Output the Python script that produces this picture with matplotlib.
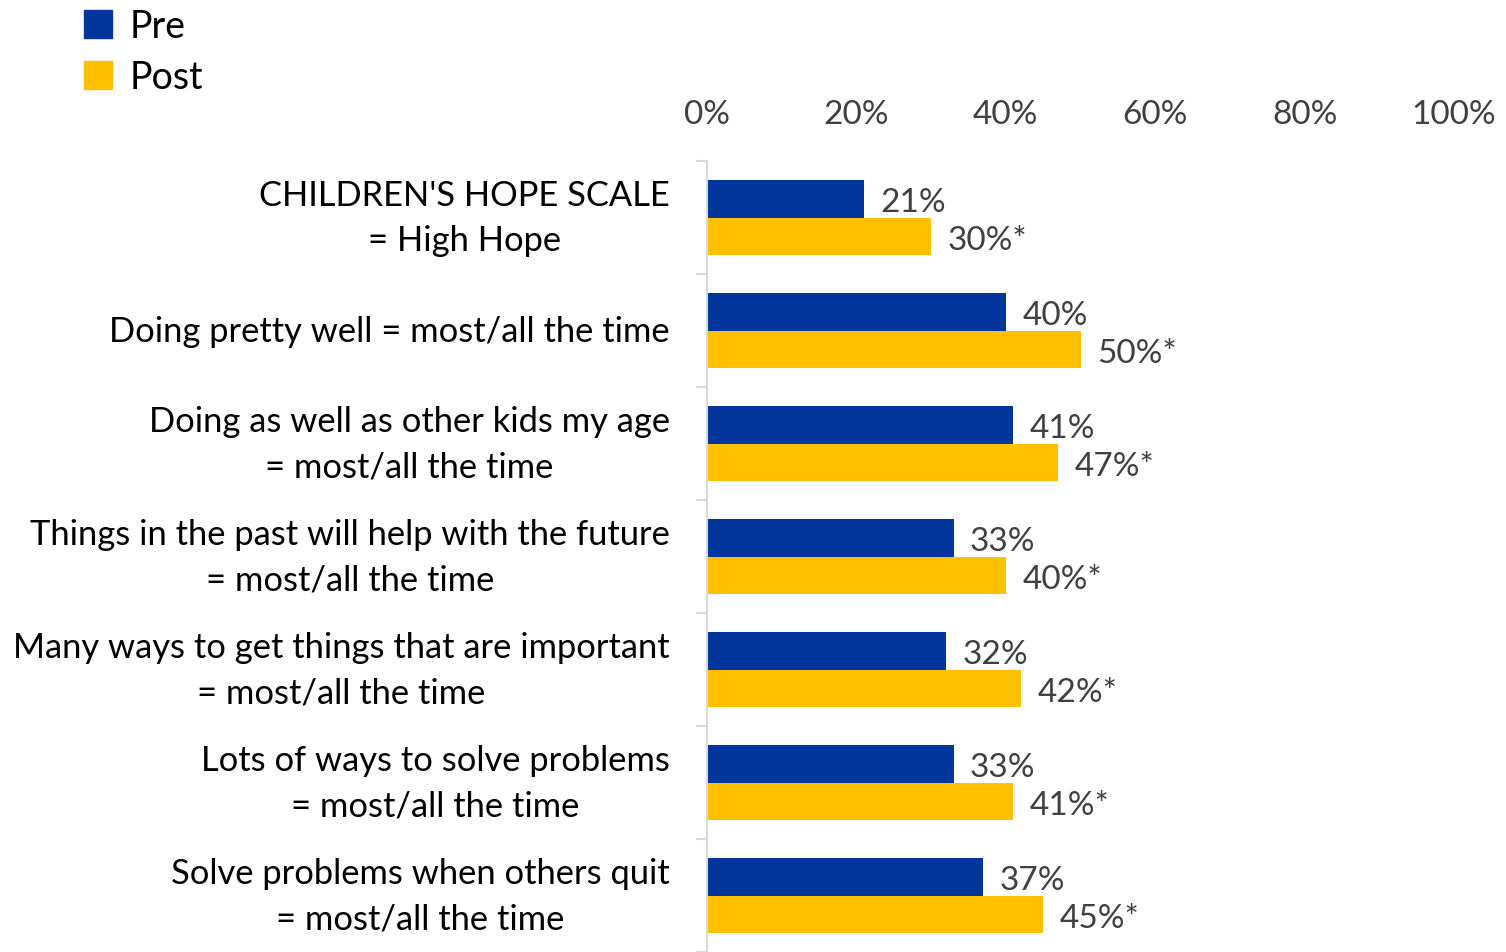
import numpy as np
import matplotlib
matplotlib.use("Agg")
import matplotlib.pyplot as plt
from matplotlib.patches import Patch

plt.rcParams["font.family"] = ["Lato", "DejaVu Sans"]

categories = [
    "CHILDREN'S HOPE SCALE\n= High Hope",
    "Doing pretty well = most/all the time",
    "Doing as well as other kids my age\n= most/all the time",
    "Things in the past will help with the future\n= most/all the time",
    "Many ways to get things that are important\n= most/all the time",
    "Lots of ways to solve problems\n= most/all the time",
    "Solve problems when others quit\n= most/all the time",
]
pre = [21, 40, 41, 33, 32, 33, 37]
post = [30, 50, 47, 40, 42, 41, 45]
pre_labels = ["21%", "40%", "41%", "33%", "32%", "33%", "37%"]
post_labels = ["30%*", "50%*", "47%*", "40%*", "42%*", "41%*", "45%*"]
xticks = [0, 20, 40, 60, 80, 100]

BLUE = "#03369c"
GOLD = "#ffc000"
GRAY = "#404040"

fig = plt.figure(figsize=(15.06, 9.53), dpi=100)
ax = fig.add_axes([707 / 1506, 0.0, 747 / 1506, 1 - 162 / 953])

y = np.arange(len(categories))
h = 0.335
ax.barh(y - h / 2, pre, height=h, color=BLUE)
ax.barh(y + h / 2, post, height=h, color=GOLD)

# data labels sit a touch below the bar centre, like the original
for yi, v, lab in zip(y, pre, pre_labels):
    ax.text(v + 2.2, yi - h / 2 + 0.03, lab, va="center", ha="left", fontsize=24, color=GRAY)
for yi, v, lab in zip(y, post, post_labels):
    ax.text(v + 2.2, yi + h / 2 + 0.03, lab, va="center", ha="left", fontsize=24, color=GRAY)

ax.set_xlim(0, 100)
ax.set_ylim(len(categories) - 0.5, -0.5)
ax.xaxis.tick_top()
ax.set_xticks(xticks)
ax.set_xticklabels([f"{t}%" for t in xticks], fontsize=24, color=GRAY)
ax.tick_params(axis="x", length=0, pad=23)

ax.set_yticks(y)
ax.set_yticklabels([])
ax.set_yticks(np.arange(len(categories) + 1) - 0.5, minor=True)
ax.tick_params(axis="y", which="major", length=0)
ax.tick_params(axis="y", which="minor", length=8, color="#d9d9d9", width=1.5)

for yi, cat in zip(y, categories):
    ax.text(-5, yi, cat, ha="right", va="center", multialignment="center",
            fontsize=24.8, color="black", linespacing=1.52, transform=ax.transData)

for s in ["top", "right", "bottom"]:
    ax.spines[s].set_visible(False)
ax.spines["left"].set_color("#d9d9d9")
ax.spines["left"].set_linewidth(1.5)

handles = [Patch(color=BLUE, label="Pre"), Patch(color=GOLD, label="Post")]
fig.legend(handles=handles, loc="upper left", bbox_to_anchor=(0.036, 1.022),
           frameon=False, fontsize=27, handlelength=0.75, handleheight=0.75,
           handletextpad=0.45, labelspacing=0.4, borderpad=0.3)

fig.savefig("out.png", dpi=100)
